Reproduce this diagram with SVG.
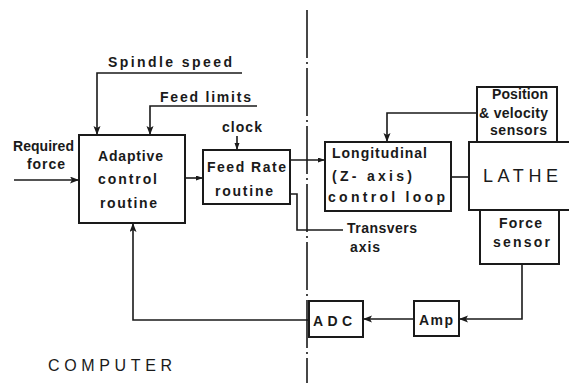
<svg xmlns="http://www.w3.org/2000/svg" width="569" height="383" viewBox="0 0 569 383">
<style>
.box{fill:#fff;stroke:#1a1a1a;stroke-width:2}
.ln{fill:none;stroke:#1a1a1a;stroke-width:1.6}
.t{font-family:"Liberation Sans",Arial,sans-serif;font-weight:bold;font-size:14px;fill:#1a1a1a}
.n{font-family:"Liberation Sans",Arial,sans-serif;font-weight:normal;fill:#1a1a1a}
.dd{fill:none;stroke:#1a1a1a;stroke-width:1.6;stroke-dasharray:48 4 2 4}
</style>
<defs>
<marker id="ah" markerUnits="userSpaceOnUse" markerWidth="10" markerHeight="8" refX="9" refY="3.5" orient="auto">
<path d="M0,0 L9,3.5 L0,7 L2,3.5 z" fill="#1a1a1a"/>
</marker>
<marker id="as" markerUnits="userSpaceOnUse" markerWidth="8" markerHeight="6" refX="7" refY="2.5" orient="auto">
<path d="M0,0 L7,2.5 L0,5 z" fill="#1a1a1a"/>
</marker>
</defs>
<rect width="569" height="383" fill="#fff"/>

<line class="dd" x1="307" y1="10" x2="307" y2="383"/>

<g id="connectors">
<polyline class="ln" points="242,73 97,73 97,135" marker-end="url(#ah)"/>
<polyline class="ln" points="257,106 150,106 150,135" marker-end="url(#ah)"/>
<line class="ln" x1="14" y1="180" x2="79" y2="180" marker-end="url(#ah)"/>
<line class="ln" x1="237" y1="136" x2="237" y2="150" marker-end="url(#as)"/>
<line class="ln" x1="185" y1="178" x2="203" y2="178" marker-end="url(#as)"/>
<line class="ln" x1="290" y1="160" x2="325" y2="160" marker-end="url(#as)"/>
<polyline class="ln" points="290,194 297,194 297,230 343,230"/>
<polyline class="ln" points="477,113 387,113 387,142" marker-end="url(#ah)"/>
<line class="ln" x1="451" y1="177" x2="469" y2="177"/>
<polyline class="ln" points="522,264 522,319 459,319" marker-end="url(#ah)"/>
<line class="ln" x1="414" y1="319" x2="363" y2="319" marker-end="url(#ah)"/>
<polyline class="ln" points="309,320 133,320 133,223" marker-end="url(#ah)"/>
</g>

<g id="spindle-speed"><text class="t" x="108" y="67" textLength="124" lengthAdjust="spacing">Spindle speed</text></g>
<g id="feed-limits"><text class="t" x="160" y="102" textLength="91" lengthAdjust="spacing">Feed limits</text></g>
<g id="required-force">
<text class="t" x="13" y="151" font-size="13" textLength="61" lengthAdjust="spacing">Required</text>
<text class="t" x="27" y="169" font-size="13" textLength="38" lengthAdjust="spacing">force</text>
</g>
<g id="adaptive">
<rect class="box" x="79" y="135" width="106" height="88"/>
<text class="t" x="98" y="161" textLength="65" lengthAdjust="spacing">Adaptive</text>
<text class="t" x="98" y="184" textLength="59" lengthAdjust="spacing">control</text>
<text class="t" x="100" y="208" textLength="57" lengthAdjust="spacing">routine</text>
</g>
<g id="clock"><text class="t" x="222" y="132" textLength="40" lengthAdjust="spacing">clock</text></g>
<g id="feed-rate">
<rect class="box" x="203" y="150" width="87" height="54"/>
<text class="t" x="207" y="172" textLength="79" lengthAdjust="spacing">Feed Rate</text>
<text class="t" x="215" y="196" textLength="58" lengthAdjust="spacing">routine</text>
</g>
<g id="longitudinal">
<rect class="box" x="325" y="142" width="126" height="69"/>
<text class="t" x="332" y="158" textLength="95" lengthAdjust="spacing">Longitudinal</text>
<text class="t" x="332" y="181" textLength="80" lengthAdjust="spacing">(Z- axis)</text>
<text class="t" x="328" y="202" textLength="117" lengthAdjust="spacing">control loop</text>
</g>
<g id="transvers">
<text class="t" x="347" y="233" textLength="70" lengthAdjust="spacing">Transvers</text>
<text class="t" x="350" y="252" textLength="30" lengthAdjust="spacing">axis</text>
</g>
<g id="position-sensors">
<rect class="box" x="477" y="87" width="80" height="55"/>
<text class="t" x="492" y="99" textLength="56" lengthAdjust="spacing">Position</text>
<text class="t" x="479" y="118" textLength="69" lengthAdjust="spacing">&amp; velocity</text>
<text class="t" x="490" y="135" textLength="57" lengthAdjust="spacing">sensors</text>
</g>
<g id="lathe">
<rect class="box" x="469" y="142" width="110" height="68"/>
<text class="n" x="483" y="182" font-size="18" textLength="75" lengthAdjust="spacing">LATHE</text>
</g>
<g id="force-sensor">
<rect class="box" x="480" y="210" width="79" height="54"/>
<text class="t" x="499" y="228" textLength="43" lengthAdjust="spacing">Force</text>
<text class="t" x="493" y="247" textLength="57" lengthAdjust="spacing">sensor</text>
</g>
<g id="amp">
<rect class="box" x="414" y="301" width="45" height="35"/>
<text class="t" x="419" y="325" textLength="34" lengthAdjust="spacing">Amp</text>
</g>
<g id="adc">
<rect class="box" x="309" y="301" width="54" height="36"/>
<text class="t" x="313" y="326" font-size="15" textLength="39" lengthAdjust="spacing">ADC</text>
</g>
<g id="computer"><text class="n" x="48" y="371" font-size="16" textLength="124" lengthAdjust="spacing">COMPUTER</text></g>
</svg>
